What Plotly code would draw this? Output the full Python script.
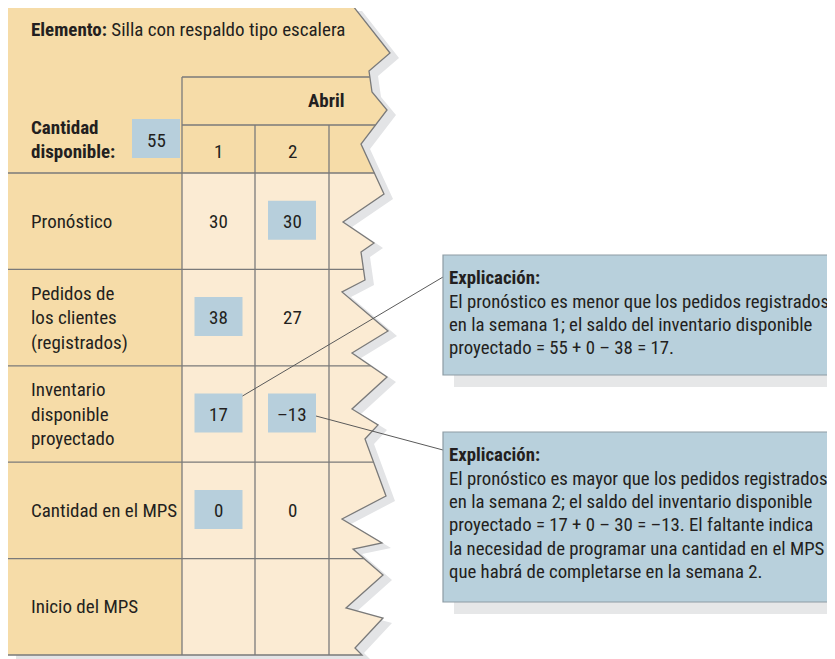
import plotly.graph_objects as go

# ---------------- data ----------------
item_label = "Elemento:"
item_name = "Silla con respaldo tipo escalera"
on_hand_label = ["Cantidad", "disponible:"]
on_hand_value = "55"
month = "Abril"
weeks = ["1", "2"]
row_labels = [
    ["Pronóstico"],
    ["Pedidos de", "los clientes", "(registrados)"],
    ["Inventario", "disponible", "proyectado"],
    ["Cantidad en el MPS"],
    ["Inicio del MPS"],
]
week1_values = ["30", "38", "17", "0", ""]
week2_values = ["30", "27", "–13", "0", ""]
week1_highlight = [False, True, True, True, False]
week2_highlight = [True, False, True, False, False]
note1_title = "Explicación:"
note1_lines = [
    "El pronóstico es menor que los pedidos registrados",
    "en la semana 1; el saldo del inventario disponible",
    "proyectado = 55 + 0 – 38 = 17.",
]
note2_title = "Explicación:"
note2_lines = [
    "El pronóstico es mayor que los pedidos registrados",
    "en la semana 2; el saldo del inventario disponible",
    "proyectado = 17 + 0 – 30 = –13. El faltante indica",
    "la necesidad de programar una cantidad en el MPS",
    "que habrá de completarse en la semana 2.",
]

# ---------------- style / geometry ----------------
W, H = 835, 659
OFF = 8  # page body margin
FONT = "Roboto Condensed, Liberation Sans Narrow, Arial Narrow, sans-serif"
FS = 19
TXT = "#231f20"
TAN = "#f6dca8"
CREAM = "#fbebd3"
BLUE = "#b7cfdc"
GRID = "#7a7a7a"
SHADOW = "#e3e4e6"

L, T, B = 7, 6, 655
col_x = [182, 255, 329]
abril_top, week_top, head_bot = 77, 125, 173
row_h = (B - head_bot) / 5
row_y = [head_bot + i * row_h for i in range(6)]

edge = [(353, 6), (390, 53), (369, 71), (372, 92), (387, 110), (361, 144), (384, 194),
        (343, 222), (374, 243), (361, 252), (365, 280), (342, 292), (388, 331), (352, 353),
        (387, 377), (352, 409), (378, 425), (365, 439), (386, 496), (342, 519), (382, 543),
        (353, 549), (383, 575), (346, 608), (383, 618), (355, 648), (362, 655)]


def edge_x(y):
    for (x0, y0), (x1, y1) in zip(edge[:-1], edge[1:]):
        if y0 <= y <= y1 and y1 != y0:
            return x0 + (x1 - x0) * (y - y0) / (y1 - y0)
    return edge[-1][0]


def path(pts):
    return "M " + " L ".join(f"{x},{y}" for x, y in pts) + " Z"


shapes = []
outline = [(L, T)] + edge + [(L, B)]
# shadow
shapes.append(dict(type="path", path=path([(x + 9, y + 5) for x, y in outline]),
                   fillcolor=SHADOW, line=dict(width=0)))
# main tan
shapes.append(dict(type="path", path=path(outline), fillcolor=TAN, line=dict(width=0)))
# cream cells
cream = [(col_x[0], head_bot), (edge_x(head_bot), head_bot)] + \
        [p for p in edge if p[1] > head_bot] + [(col_x[0], B)]
shapes.append(dict(type="path", path=path(cream), fillcolor=CREAM, line=dict(width=0)))

# grid lines
gl = dict(color=GRID, width=1.3)
for y in row_y[:-1]:
    shapes.append(dict(type="line", x0=L, x1=edge_x(y), y0=y, y1=y, line=gl))
for y in [abril_top, week_top]:
    shapes.append(dict(type="line", x0=col_x[0], x1=edge_x(y), y0=y, y1=y, line=gl))
shapes.append(dict(type="line", x0=col_x[0], x1=col_x[0], y0=abril_top, y1=B, line=gl))
for x in col_x[1:]:
    shapes.append(dict(type="line", x0=x, x1=x, y0=week_top, y1=B, line=gl))
# outline stroke
shapes.append(dict(type="path", path="M " + " L ".join(f"{x},{y}" for x, y in
                   [(L, B), (L, T)] + edge + [(L, B)]), line=dict(color=GRID, width=1.3)))

annotations = []


def txt(x, y, s, size=FS, bold=False, xanchor="left"):
    annotations.append(dict(x=x, y=y, xref="x", yref="y", text=f"<b>{s}</b>" if bold else s,
                            showarrow=False, xanchor=xanchor, yanchor="middle",
                            font=dict(family=FONT, size=size, color=TXT)))


def blue_box(cx, cy):
    shapes.append(dict(type="rect", x0=cx - 24, x1=cx + 24, y0=cy - 19.5, y1=cy + 19.5,
                       fillcolor=BLUE, line=dict(width=0)))


# header
annotations.append(dict(x=29, y=29, xref="x", yref="y",
                        text=f"<b>{item_label}</b> {item_name}", showarrow=False,
                        xanchor="left", yanchor="middle",
                        font=dict(family=FONT, size=FS, color=TXT)))
txt(29, 127, on_hand_label[0], bold=True)
txt(29, 151, on_hand_label[1], bold=True)
blue_box(156, 138.5)
txt(156, 140, on_hand_value, xanchor="center")
txt(347, 100, month, bold=True, xanchor="right")
col_c = [(col_x[0] + col_x[1]) / 2, (col_x[1] + col_x[2]) / 2]
for c, w in zip(col_c, weeks):
    txt(c, 151, w, xanchor="center")

# rows
for i, lines in enumerate(row_labels):
    cy = (row_y[i] + row_y[i + 1]) / 2
    n = len(lines)
    for j, s in enumerate(lines):
        txt(29, cy + (j - (n - 1) / 2) * 24.5, s)
    for c, vals, hl in [(col_c[0], week1_values, week1_highlight),
                        (col_c[1], week2_values, week2_highlight)]:
        if hl[i]:
            blue_box(c, cy - 1)
        if vals[i]:
            txt(c, cy, vals[i], xanchor="center")

# connector lines
lc = dict(color="#5a5a5a", width=1)
shapes.append(dict(type="line", x0=col_c[0] + 24, y0=row_y[2] + row_h / 2 - 18,
                   x1=443, y1=277, line=lc))
shapes.append(dict(type="line", x0=col_c[1] + 24, y0=row_y[2] + row_h / 2 + 2,
                   x1=443, y1=450, line=lc))

# callout boxes
NOTE_FS = 18.8
for (y0, y1, title, lines) in [(255, 375, note1_title, note1_lines),
                               (432, 602, note2_title, note2_lines)]:
    shapes.append(dict(type="rect", x0=454, x1=880, y0=y0 + 12, y1=y1 + 12,
                       fillcolor="#e6e7e8", line=dict(width=0)))
    shapes.append(dict(type="rect", x0=443, x1=880, y0=y0, y1=y1,
                       fillcolor="#b8d0dc", line=dict(color="#8d9ca4", width=1.2)))
    txt(447, y0 + 23, title, size=NOTE_FS, bold=True)
    for k, s in enumerate(lines):
        txt(447, y0 + 46.5 + k * 23.4, s, size=NOTE_FS)

fig = go.Figure()
fig.update_layout(
    width=W, height=H, margin=dict(l=0, r=0, t=0, b=0),
    paper_bgcolor="white", plot_bgcolor="white",
    xaxis=dict(range=[OFF, W + OFF], visible=False, fixedrange=True),
    yaxis=dict(range=[H + OFF, OFF], visible=False, fixedrange=True),
    shapes=shapes, annotations=annotations, showlegend=False,
)
fig.write_html("out.html")
